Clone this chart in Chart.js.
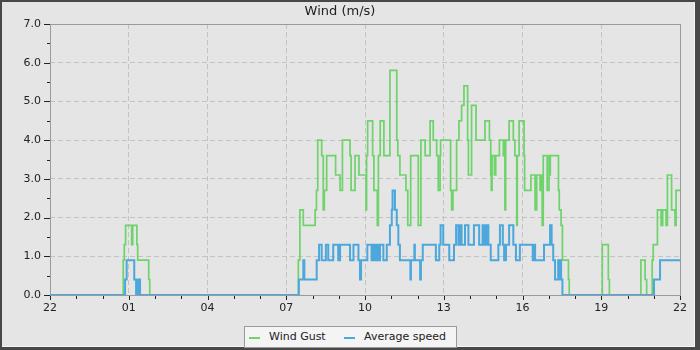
<!DOCTYPE html>
<html>
<head>
<meta charset="utf-8">
<script src="https://cdn.jsdelivr.net/npm/chart.js@4.4.1/dist/chart.umd.min.js"></script>
<style>
  html, body { margin: 0; padding: 0; background: #484848; }
  #wrap { position: relative; width: 700px; height: 350px; background: #484848; overflow: hidden; }
  #panel { position: absolute; left: 2px; top: 2px; width: 692px; height: 344px; background: #e5e5e5; border-right: 1px solid #f6f6f6; border-bottom: 1px solid #f6f6f6; }
  #c { position: absolute; left: 0; top: 0; }
  #legend { position: absolute; left: 244px; top: 326px; width: 211px; height: 20px; background: #f4f4f4; border: 1px solid #9a9a9a;
            font-family: "DejaVu Sans", sans-serif; font-size: 11px; color: #222; }
  .sw { position: absolute; top: 10px; width: 11px; height: 2px; }
  .lt { position: absolute; top: 3px; white-space: nowrap; }
</style>
</head>
<body>
<div id="wrap">
  <div id="panel"></div>
  <canvas id="c" width="700" height="350"></canvas>
  <div id="legend">
    <div class="sw" style="left:4px;background:#6dd36a"></div><div class="lt" id="lg0" style="left:24px"></div>
    <div class="sw" style="left:99px;background:#4ba7dc"></div><div class="lt" id="lg1" style="left:119px"></div>
  </div>
</div>
<script>
// ---- data (x = hours after 22:00) ----
const titleText = 'Wind (m/s)';
const seriesNames = ['Wind Gust', 'Average speed'];
const xTickLabels = ['22', '01', '04', '07', '10', '13', '16', '19', '22'];
const yTickLabels = ['0.0', '1.0', '2.0', '3.0', '4.0', '5.0', '6.0', '7.0'];

const gustTimes = [0, 2.79, 2.83, 2.88, 3.11, 3.15, 3.31, 3.34, 3.76, 3.80,
  9.46, 9.52, 9.65, 10.10, 10.15, 10.20, 10.35, 10.41, 10.45, 10.54, 10.88, 11.05, 11.14, 11.43, 11.47,
  11.62, 11.77, 12.04, 12.06, 12.10, 12.29, 12.34, 12.47, 12.51, 12.58, 12.72, 12.95, 13.21, 13.25, 13.33,
  13.56, 13.63, 13.74, 14.03, 14.13, 14.29, 14.48, 14.60, 14.73, 14.79, 14.86, 14.88, 15.26, 15.30, 15.35,
  15.49, 15.58, 15.68, 15.77, 15.91, 15.94, 16.06, 16.23, 16.57, 16.74, 16.79, 16.81, 16.84, 16.93, 16.98,
  17.12, 17.27, 17.31, 17.33, 17.36, 17.49, 17.65, 17.71, 17.78, 17.80, 17.87, 18.06, 18.08, 18.32, 18.48,
  18.54, 18.67, 18.73, 18.75, 18.79, 18.94, 19.01, 19.04, 19.06, 19.37, 19.40, 19.47, 19.52, 19.75, 19.78,
  21.04, 21.27, 21.31, 22.51, 22.67, 22.73, 22.94, 22.98, 23.14, 23.28, 23.34, 23.47, 23.52, 23.68, 23.81,
  23.85, 24];
const gustValues = [0, 0.9, 1.3, 1.8, 1.3, 1.8, 1.3, 0.9, 0.4, 0,
  0.9, 2.2, 1.8, 2.2, 2.7, 4.0, 3.6, 2.2, 2.7, 3.6, 3.1, 2.7, 4.0, 3.6, 2.7,
  3.6, 3.1, 2.2, 3.6, 4.5, 3.6, 2.7, 1.8, 3.6, 4.5, 3.6, 5.8, 4.0, 3.6, 3.1,
  2.7, 1.8, 3.6, 1.8, 4.0, 3.6, 4.5, 4.0, 3.6, 2.7, 3.6, 4.0, 2.7, 2.2, 2.7,
  4.0, 4.5, 4.9, 5.4, 4.0, 3.1, 4.9, 4.0, 4.5, 4.0, 3.1, 2.7, 3.6, 3.1, 3.6,
  4.0, 3.6, 4.0, 2.2, 4.0, 4.5, 4.0, 3.6, 1.8, 3.6, 4.5, 3.6, 2.7, 3.1, 2.2,
  3.1, 2.7, 3.1, 1.8, 3.6, 2.7, 3.6, 3.1, 3.6, 2.7, 2.2, 1.8, 0.9, 0.4, 0,
  1.3, 0.4, 0, 0.9, 0.4, 0, 0.9, 1.3, 2.2, 1.8, 2.2, 1.8, 3.1, 2.2, 1.8,
  2.7, 2.7];

const avgTimes = [0, 2.86, 2.92, 3.21, 3.28, 3.33, 3.36, 3.39, 3.43,
  9.48, 9.65, 9.69, 10.16, 10.25, 10.35, 10.51, 10.60, 10.79, 10.98, 11.05, 11.43, 11.56, 11.75, 11.81, 11.85,
  12.09, 12.25, 12.32, 12.36, 12.41, 12.43, 12.46, 12.50, 12.57, 12.70, 12.83, 12.95, 13.02, 13.05, 13.14,
  13.21, 13.27, 13.33, 13.73, 13.75, 13.88, 13.90, 14.10, 14.13, 14.20, 14.70, 14.83, 14.88, 14.98, 15.21,
  15.39, 15.47, 15.56, 15.58, 15.62, 15.66, 15.68, 15.81, 15.94, 16.15, 16.35, 16.48, 16.53, 16.57, 16.61,
  16.64, 16.70, 16.79, 17.08, 17.14, 17.25, 17.30, 17.37, 17.49, 17.65, 17.75, 17.90, 18.39, 18.41, 18.48,
  18.82, 19.05, 19.11, 19.17, 19.24, 19.36, 19.40, 19.43, 19.47, 19.52, 23.01, 23.24, 24];
const avgValues = [0, 0.4, 0.9, 0.4, 0, 0.4, 0, 0.4, 0,
  0.4, 0.9, 0.4, 0.9, 1.3, 0.9, 1.3, 0.9, 1.3, 0.9, 1.3, 0.9, 1.3, 0.9, 0.4, 0.9,
  1.3, 0.9, 1.3, 0.9, 1.3, 0.9, 1.3, 0.9, 1.3, 0.9, 1.3, 1.8, 2.2, 2.7, 2.2,
  1.8, 1.3, 0.9, 0.4, 0.9, 1.3, 0.9, 0.4, 0.9, 1.3, 0.9, 1.3, 1.8, 1.3, 0.9,
  1.3, 1.8, 1.3, 1.8, 1.3, 1.8, 1.3, 1.8, 1.3, 1.8, 1.3, 1.8, 1.3, 1.8, 1.3,
  1.8, 1.3, 0.9, 1.3, 1.8, 1.3, 0.9, 1.3, 1.8, 1.3, 0.9, 1.3, 0.9, 1.3, 0.9,
  1.3, 1.8, 1.3, 0.9, 0.4, 0.9, 0.4, 0.9, 0.4, 0, 0.4, 0.9, 0.9];

const gustColor = '#6dd36a';
const avgColor = '#4ba7dc';

document.getElementById('lg0').textContent = seriesNames[0];
document.getElementById('lg1').textContent = seriesNames[1];

const toXY = (ts, vs) => ts.map((t, i) => ({ x: t, y: vs[i] }));

const frame = {
  id: 'frame',
  beforeDatasetsDraw(chart) {
    const ctx = chart.ctx, a = chart.chartArea;
    const xs = chart.scales.x, ys = chart.scales.y;
    ctx.save();
    ctx.lineWidth = 1;
    ctx.strokeStyle = '#9a9a9a';
    ctx.strokeRect(Math.round(a.left) + 0.5, Math.round(a.top) + 0.5,
                   Math.round(a.right - a.left), Math.round(a.bottom - a.top));
    ctx.strokeStyle = '#222';
    ctx.beginPath();
    for (let h = xs.min; h <= xs.max; h += 1) {
      const px = Math.round(xs.getPixelForValue(h)) + 0.5;
      ctx.moveTo(px, Math.round(a.bottom) + 1);
      ctx.lineTo(px, Math.round(a.bottom) + (h % 3 === 0 ? 5 : 4));
    }
    for (let v = ys.min; v <= ys.max; v += 0.5) {
      const py = Math.round(ys.getPixelForValue(v)) + 0.5;
      ctx.moveTo(Math.round(a.left) - (v % 1 === 0 ? 6 : 3), py);
      ctx.lineTo(Math.round(a.left), py);
    }
    ctx.stroke();
    ctx.restore();
  }
};

Chart.defaults.font.family = '"DejaVu Sans", sans-serif';
Chart.defaults.font.size = 11;
Chart.defaults.color = '#222';

new Chart(document.getElementById('c'), {
  type: 'line',
  data: {
    datasets: [
      { label: seriesNames[0], data: toXY(gustTimes, gustValues), borderColor: gustColor, borderWidth: 1.7,
        stepped: true, pointRadius: 0, fill: false, order: 1 },
      { label: seriesNames[1], data: toXY(avgTimes, avgValues), borderColor: avgColor, borderWidth: 2,
        stepped: true, pointRadius: 0, fill: false, order: 0 }
    ]
  },
  options: {
    responsive: false,
    animation: false,
    devicePixelRatio: 1,
    layout: { padding: { top: 4, left: 0, right: 20, bottom: 35 } },
    plugins: {
      legend: { display: false },
      tooltip: { enabled: false },
      title: { display: true, text: titleText, font: { size: 13, weight: 'normal' }, color: '#222',
               padding: { top: 0, bottom: 4.4 } }
    },
    scales: {
      x: {
        type: 'linear', min: 0, max: 24,
        afterFit(s) { s.height = 20; },
        border: { display: false, dash: [5, 3] },
        grid: { drawTicks: false, lineWidth: 1,
                color: c => (c.tick && c.tick.value % 3 === 0 && c.tick.value > 0 && c.tick.value < 24) ? '#c2c2c2' : 'rgba(0,0,0,0)' },
        ticks: { stepSize: 1, autoSkip: false, maxRotation: 0, padding: 7,
                 callback: v => (v % 3 === 0 ? xTickLabels[v / 3] : '') }
      },
      y: {
        min: 0, max: 7,
        afterFit(s) { s.width = 50; },
        border: { display: false, dash: [5, 3] },
        grid: { drawTicks: false, lineWidth: 1,
                color: c => (c.tick && c.tick.value > 0 && c.tick.value < 7) ? '#c2c2c2' : 'rgba(0,0,0,0)' },
        ticks: { stepSize: 1, padding: 9, callback: (v) => yTickLabels[v] }
      }
    }
  },
  plugins: [frame]
});
</script>
</body>
</html>
